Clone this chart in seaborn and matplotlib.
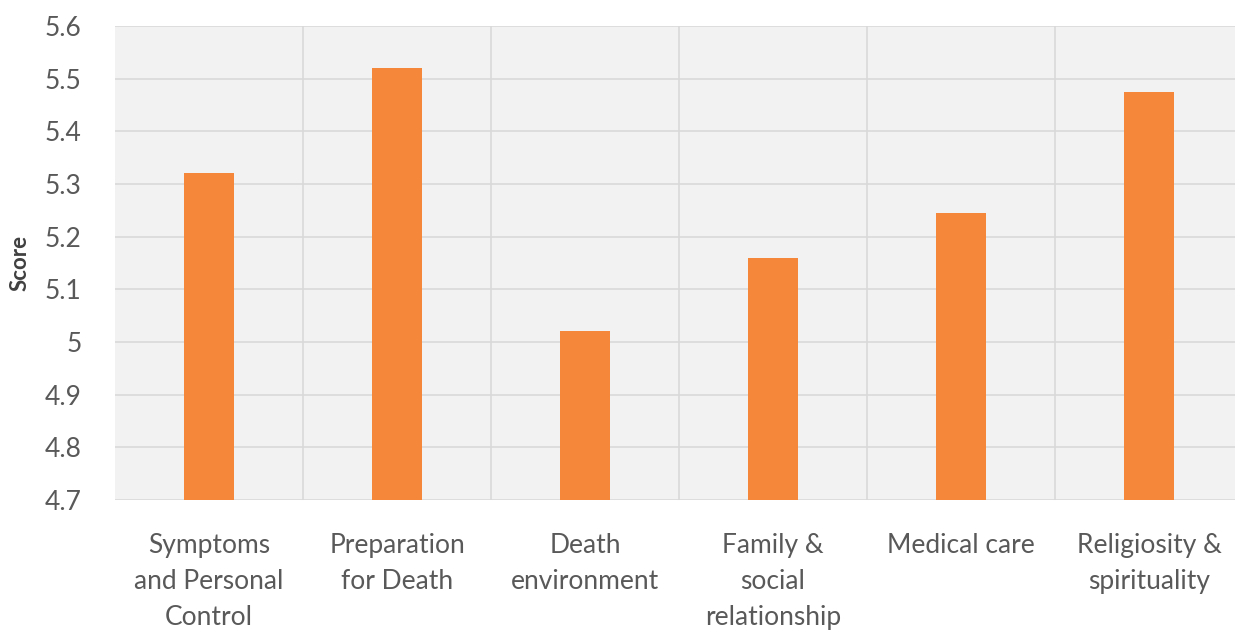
import matplotlib
matplotlib.use("Agg")
import matplotlib.pyplot as plt
import seaborn as sns
import pandas as pd
import numpy as np

categories = ["Symptoms\nand Personal\nControl", "Preparation\nfor Death", "Death\nenvironment",
              "Family &\nsocial\nrelationship", "Medical care", "Religiosity &\nspirituality"]
scores = [5.32, 5.52, 5.02, 5.16, 5.245, 5.475]
yticks = [4.7, 4.8, 4.9, 5.0, 5.1, 5.2, 5.3, 5.4, 5.5, 5.6]
ytick_labels = ["4.7", "4.8", "4.9", "5", "5.1", "5.2", "5.3", "5.4", "5.5", "5.6"]

sns.set_style("white")
plt.rcParams['font.family'] = ['Lato', 'DejaVu Sans']

df = pd.DataFrame({"category": categories, "score": scores})

W, H = 1235, 630
fig = plt.figure(figsize=(W / 100, H / 100), dpi=100)
ax = fig.add_axes([115 / W, 1 - 500 / H, 1128 / W, 474 / H])
ax.set_facecolor("#f2f2f2")

sns.barplot(data=df, x="category", y="score", color="#f5873a", width=0.27,
            saturation=1, linewidth=0, ax=ax, zorder=3)

ax.set_ylim(4.7, 5.6)
ax.set_xlim(-0.5, 5.5)
ax.set_yticks(yticks)
ax.set_yticklabels(ytick_labels)
ax.grid(axis="y", color="#d9d9d9", linewidth=1.2, zorder=0)
for b in np.arange(0.5, 5.5, 1.0):
    ax.axvline(b, color="#d9d9d9", linewidth=1.2, zorder=0)
ax.set_axisbelow(True)

for s in ax.spines.values():
    s.set_visible(False)

ax.tick_params(axis="both", length=0, colors="#595959")
ax.tick_params(axis="y", pad=24, labelsize=19)
ax.tick_params(axis="x", pad=24, labelsize=19)
for lbl in ax.get_xticklabels():
    lbl.set_linespacing(1.55)
    lbl.set_verticalalignment("top")

ax.set_xlabel("")
ax.set_ylabel("Score", fontsize=16, fontweight="bold", color="#404040", labelpad=10)

fig.savefig("out.png", dpi=100)
